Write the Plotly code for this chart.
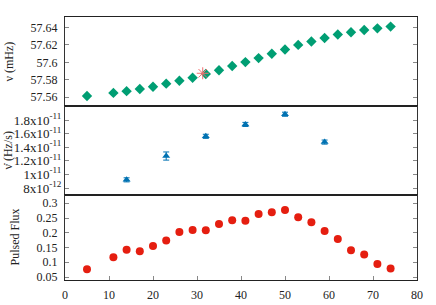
import plotly.graph_objects as go
from plotly.subplots import make_subplots

# ---- data ----
x_days = [5, 11, 14, 17, 20, 23, 26, 29, 32, 35, 38, 41, 44, 47, 50, 53, 56, 59, 62, 65, 68, 71, 74]
nu_mhz = [57.5615, 57.565, 57.567, 57.5695, 57.572, 57.5756, 57.579, 57.5824, 57.5866, 57.591,
          57.5958, 57.6003, 57.6049, 57.6098, 57.6148, 57.6200, 57.6239, 57.628, 57.6319, 57.6345,
          57.6371, 57.639, 57.641]
star_x = [31.3]
star_y = [57.5875]
nudot_x = [14, 23, 32, 41, 50, 59]
nudot = [9.2e-12, 1.27e-11, 1.56e-11, 1.735e-11, 1.885e-11, 1.475e-11]
nudot_err = [3e-13, 6e-13, 3e-13, 3e-13, 3e-13, 3e-13]
flux = [0.0766, 0.1174, 0.1422, 0.1378, 0.1548, 0.1742, 0.2024, 0.2092, 0.2082, 0.2296,
        0.2422, 0.2408, 0.2636, 0.2694, 0.2772, 0.2524, 0.2354, 0.2058, 0.1786, 0.1412,
        0.1266, 0.0946, 0.079]
nudot_tickvals = [8e-12, 1e-11, 1.2e-11, 1.4e-11, 1.6e-11, 1.8e-11]
nudot_ticktext = ["8x10<sup>-12</sup>", "1x10<sup>-11</sup>", "1.2x10<sup>-11</sup>",
                  "1.4x10<sup>-11</sup>", "1.6x10<sup>-11</sup>", "1.8x10<sup>-11</sup>"]

FONT = "Liberation Serif"

fig = make_subplots(rows=3, cols=1, shared_xaxes=True, vertical_spacing=0)

fig.add_trace(go.Scatter(x=x_days, y=nu_mhz, mode="markers",
                         marker=dict(symbol="diamond", size=8, color="#009e73")), row=1, col=1)
fig.add_trace(go.Scatter(x=star_x, y=star_y, mode="markers",
                         marker=dict(symbol="asterisk-open", size=10, color="#f27070",
                                     line=dict(width=1, color="#f27070"))), row=1, col=1)
fig.add_trace(go.Scatter(x=nudot_x, y=nudot, mode="markers",
                         error_y=dict(type="data", array=nudot_err, color="#0072b2",
                                      thickness=1, width=3),
                         marker=dict(symbol="triangle-up", size=7, color="#0072b2")), row=2, col=1)
fig.add_trace(go.Scatter(x=x_days, y=flux, mode="markers",
                         marker=dict(symbol="circle", size=8, color="#e51e10")), row=3, col=1)

H = 263.0
d_top = (280 - 106) / H
d_mid = (280 - 195) / H

common_y = dict(ticks="inside", ticklen=4, tickcolor="#888", showline=True, linecolor="#333",
                linewidth=1, mirror="ticks", showgrid=False, zeroline=False, automargin=False,
                tickfont=dict(family=FONT, size=12, color="#222"))
fig.update_yaxes(**common_y)
fig.update_yaxes(row=1, col=1, range=[57.55, 57.652], domain=[d_top, 1],
                 tickvals=[57.56, 57.58, 57.6, 57.62, 57.64],
                 ticktext=["57.56", "57.58", "57.6", "57.62", "57.64"], ticklabelstandoff=4)
fig.update_yaxes(row=2, col=1, range=[6.97e-12, 2.006e-11], domain=[d_mid, d_top],
                 tickvals=nudot_tickvals, ticktext=nudot_ticktext, ticklabelstandoff=0,
                 tickfont=dict(family=FONT, size=13, color="#222"))
fig.update_yaxes(row=3, col=1, range=[0.04, 0.328], domain=[0, d_mid],
                 tickvals=[0.05, 0.1, 0.15, 0.2, 0.25, 0.3],
                 ticktext=["0.05", "0.1", "0.15", "0.2", "0.25", "0.3"], ticklabelstandoff=4)

fig.update_xaxes(range=[0, 80], showgrid=False, zeroline=False, showline=True, automargin=False,
                 linecolor="#222", linewidth=1, mirror=True, ticks="")
fig.update_xaxes(row=3, col=1, ticks="inside", ticklen=4, tickcolor="#888",
                 tickvals=[0, 10, 20, 30, 40, 50, 60, 70, 80], showticklabels=True,
                 tickfont=dict(family=FONT, size=12, color="#222"), ticklabelstandoff=4)

titles = [("y domain", "ν (mHz)", -57), ("y2 domain", "ν̇ (Hz/s)", -58), ("y3 domain", "Pulsed Flux", -51)]
for yref, txt, xs in titles:
    fig.add_annotation(xref="paper", yref=yref, x=0, y=0.5, text=txt, showarrow=False,
                       textangle=-90, xanchor="center", yanchor="middle", xshift=xs,
                       font=dict(family=FONT, size=12, color="#222"))

fig.update_layout(width=436, height=305, margin=dict(l=65, r=19, t=17, b=25),
                  plot_bgcolor="white", paper_bgcolor="white", showlegend=False,
                  font=dict(family=FONT, size=12, color="#222"))

fig.write_html("out.html", config={"displayModeBar": False},
               post_script="document.body.style.margin='0';document.body.style.padding='0';"
                           "document.body.style.overflow='hidden';")
